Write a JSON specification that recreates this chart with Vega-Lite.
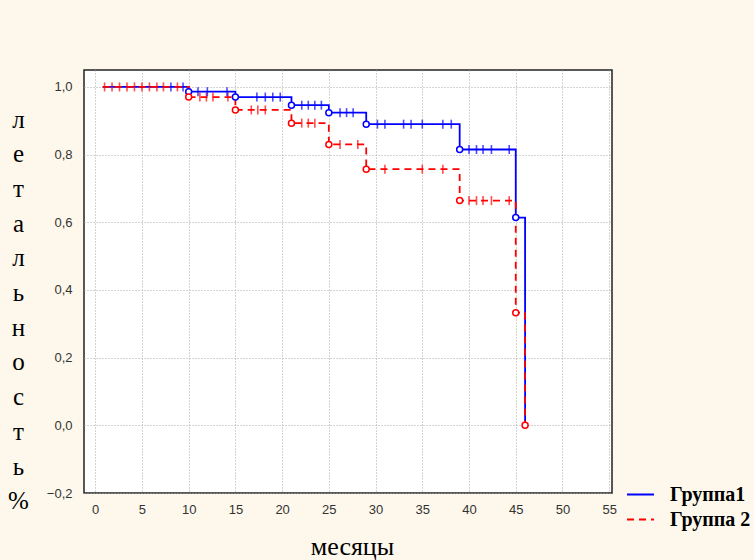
{
  "$schema": "https://vega.github.io/schema/vega-lite/v6.json",
  "width": 528,
  "height": 423,
  "autosize": "none",
  "padding": {"left": 84, "top": 70, "right": 142, "bottom": 67},
  "background": "#fdf8eb",
  "config": {
    "view": {"fill": "white", "stroke": "#222222", "strokeWidth": 1.5},
    "font": "Liberation Sans",
    "legend": {
      "padding": 0,
      "symbolType": "stroke",
      "symbolSize": 729,
      "symbolStrokeWidth": 2,
      "labelFont": "Liberation Serif",
      "labelFontSize": 20,
      "labelFontWeight": "bold",
      "labelColor": "black",
      "labelOffset": 15,
      "rowPadding": -1,
      "labelLimit": 200
    }
  },
  "datasets": {
    "steps": [
      {"group": "Группа1", "t": 0.8, "s": 1.0},
      {"group": "Группа1", "t": 10, "s": 0.986},
      {"group": "Группа1", "t": 15, "s": 0.97},
      {"group": "Группа1", "t": 21, "s": 0.946},
      {"group": "Группа1", "t": 25, "s": 0.924},
      {"group": "Группа1", "t": 29, "s": 0.89},
      {"group": "Группа1", "t": 39, "s": 0.815},
      {"group": "Группа1", "t": 45, "s": 0.614},
      {"group": "Группа1", "t": 46, "s": 0.0},
      {"group": "Группа 2", "t": 0.8, "s": 1.0},
      {"group": "Группа 2", "t": 10, "s": 0.97},
      {"group": "Группа 2", "t": 15, "s": 0.932},
      {"group": "Группа 2", "t": 21, "s": 0.893},
      {"group": "Группа 2", "t": 25, "s": 0.83},
      {"group": "Группа 2", "t": 29, "s": 0.757},
      {"group": "Группа 2", "t": 39, "s": 0.664},
      {"group": "Группа 2", "t": 45, "s": 0.333},
      {"group": "Группа 2", "t": 46, "s": 0.0}
    ],
    "events": [
      {"group": "Группа1", "t": 10, "s": 0.986},
      {"group": "Группа1", "t": 15, "s": 0.97},
      {"group": "Группа1", "t": 21, "s": 0.946},
      {"group": "Группа1", "t": 25, "s": 0.924},
      {"group": "Группа1", "t": 29, "s": 0.89},
      {"group": "Группа1", "t": 39, "s": 0.815},
      {"group": "Группа1", "t": 45, "s": 0.614},
      {"group": "Группа 2", "t": 10, "s": 0.97},
      {"group": "Группа 2", "t": 15, "s": 0.932},
      {"group": "Группа 2", "t": 21, "s": 0.893},
      {"group": "Группа 2", "t": 25, "s": 0.83},
      {"group": "Группа 2", "t": 29, "s": 0.757},
      {"group": "Группа 2", "t": 39, "s": 0.664},
      {"group": "Группа 2", "t": 45, "s": 0.333},
      {"group": "Группа 2", "t": 46, "s": 0.0}
    ],
    "censored": [
      {"group": "Группа 2", "t": 1.0, "s": 1.0},
      {"group": "Группа 2", "t": 1.8, "s": 1.0},
      {"group": "Группа 2", "t": 2.6, "s": 1.0},
      {"group": "Группа 2", "t": 3.4, "s": 1.0},
      {"group": "Группа 2", "t": 4.2, "s": 1.0},
      {"group": "Группа 2", "t": 5.0, "s": 1.0},
      {"group": "Группа 2", "t": 5.8, "s": 1.0},
      {"group": "Группа 2", "t": 6.6, "s": 1.0},
      {"group": "Группа 2", "t": 7.3, "s": 1.0},
      {"group": "Группа 2", "t": 8.8, "s": 1.0},
      {"group": "Группа 2", "t": 11.2, "s": 0.97},
      {"group": "Группа 2", "t": 11.9, "s": 0.97},
      {"group": "Группа 2", "t": 12.6, "s": 0.97},
      {"group": "Группа 2", "t": 14.2, "s": 0.97},
      {"group": "Группа 2", "t": 16.7, "s": 0.932},
      {"group": "Группа 2", "t": 17.4, "s": 0.932},
      {"group": "Группа 2", "t": 18.2, "s": 0.932},
      {"group": "Группа 2", "t": 22.1, "s": 0.893},
      {"group": "Группа 2", "t": 22.8, "s": 0.893},
      {"group": "Группа 2", "t": 23.5, "s": 0.893},
      {"group": "Группа 2", "t": 26.2, "s": 0.83},
      {"group": "Группа 2", "t": 28.1, "s": 0.83},
      {"group": "Группа 2", "t": 31.0, "s": 0.757},
      {"group": "Группа 2", "t": 35.0, "s": 0.757},
      {"group": "Группа 2", "t": 37.2, "s": 0.757},
      {"group": "Группа 2", "t": 40.0, "s": 0.664},
      {"group": "Группа 2", "t": 40.8, "s": 0.664},
      {"group": "Группа 2", "t": 41.5, "s": 0.664},
      {"group": "Группа 2", "t": 42.4, "s": 0.664},
      {"group": "Группа 2", "t": 44.3, "s": 0.664},
      {"group": "Группа1", "t": 8.1, "s": 1.0},
      {"group": "Группа1", "t": 9.4, "s": 1.0},
      {"group": "Группа1", "t": 11.0, "s": 0.986},
      {"group": "Группа1", "t": 12.0, "s": 0.986},
      {"group": "Группа1", "t": 14.1, "s": 0.986},
      {"group": "Группа1", "t": 17.3, "s": 0.97},
      {"group": "Группа1", "t": 18.2, "s": 0.97},
      {"group": "Группа1", "t": 19.0, "s": 0.97},
      {"group": "Группа1", "t": 19.8, "s": 0.97},
      {"group": "Группа1", "t": 22.1, "s": 0.946},
      {"group": "Группа1", "t": 22.8, "s": 0.946},
      {"group": "Группа1", "t": 23.5, "s": 0.946},
      {"group": "Группа1", "t": 24.2, "s": 0.946},
      {"group": "Группа1", "t": 26.2, "s": 0.924},
      {"group": "Группа1", "t": 26.9, "s": 0.924},
      {"group": "Группа1", "t": 27.6, "s": 0.924},
      {"group": "Группа1", "t": 30.2, "s": 0.89},
      {"group": "Группа1", "t": 31.0, "s": 0.89},
      {"group": "Группа1", "t": 33.0, "s": 0.89},
      {"group": "Группа1", "t": 33.8, "s": 0.89},
      {"group": "Группа1", "t": 35.0, "s": 0.89},
      {"group": "Группа1", "t": 37.2, "s": 0.89},
      {"group": "Группа1", "t": 38.1, "s": 0.89},
      {"group": "Группа1", "t": 40.0, "s": 0.815},
      {"group": "Группа1", "t": 40.8, "s": 0.815},
      {"group": "Группа1", "t": 41.5, "s": 0.815},
      {"group": "Группа1", "t": 42.4, "s": 0.815},
      {"group": "Группа1", "t": 44.3, "s": 0.815}
    ]
  },
  "encoding": {
    "x": {
      "field": "t",
      "type": "quantitative",
      "scale": {"domain": [-1.2, 55.3], "nice": false, "zero": false},
      "axis": {
        "values": [0, 5, 10, 15, 20, 25, 30, 35, 40, 45, 50, 55],
        "title": "месяцы",
        "titleFont": "Liberation Serif",
        "titleFontSize": 26,
        "titleFontWeight": "normal",
        "titleColor": "black",
        "titleX": 268,
        "titleY": 61,
        "titleBaseline": "alphabetic",
        "labelFont": "Liberation Sans",
        "labelFontSize": 13,
        "labelColor": "#333333",
        "labelPadding": 10,
        "ticks": false,
        "domain": false,
        "grid": true,
        "gridDash": [1, 2],
        "gridColor": "#a8a8a8",
        "gridWidth": 1
      }
    },
    "y": {
      "field": "s",
      "type": "quantitative",
      "scale": {"domain": [-0.2, 1.05], "nice": false, "zero": false},
      "axis": {
        "values": [-0.2, 0, 0.2, 0.4, 0.6, 0.8, 1.0],
        "labelExpr": "replace(format(datum.value, '.1f'), '.', ',')",
        "title": ["л", "е", "т", "а", "л", "ь", "н", "о", "с", "т", "ь", "%"],
        "titleFont": "Liberation Serif",
        "titleFontSize": 25,
        "titleFontWeight": "normal",
        "titleColor": "black",
        "titleAngle": 0,
        "titleAlign": "center",
        "titleBaseline": "alphabetic",
        "titleX": -66,
        "titleY": 57,
        "titleLineHeight": 34.7,
        "labelFont": "Liberation Sans",
        "labelFontSize": 13,
        "labelColor": "#333333",
        "labelPadding": 12,
        "ticks": false,
        "domain": false,
        "grid": true,
        "gridDash": [1, 2],
        "gridColor": "#a8a8a8",
        "gridWidth": 1
      }
    }
  },
  "layer": [
    {
      "data": {"name": "steps"},
      "mark": {"type": "line", "interpolate": "step-after", "strokeWidth": 1.8},
      "encoding": {
        "color": {
          "field": "group",
          "type": "nominal",
          "scale": {"domain": ["Группа1", "Группа 2"], "range": ["#0000ff", "#ff0000"]},
          "legend": {"orient": "none", "legendX": 542, "legendY": 410, "title": null}
        },
        "strokeDash": {
          "field": "group",
          "type": "nominal",
          "scale": {"domain": ["Группа1", "Группа 2"], "range": [[1, 0], [7, 5]]},
          "legend": {"orient": "none", "legendX": 542, "legendY": 410, "title": null}
        }
      }
    },
    {
      "data": {"name": "censored"},
      "mark": {"type": "tick", "orient": "vertical", "size": 9, "thickness": 1.6},
      "encoding": {
        "color": {"field": "group", "type": "nominal", "legend": null}
      }
    },
    {
      "data": {"name": "events"},
      "mark": {"type": "point", "shape": "circle", "filled": false, "fill": "white", "size": 36, "strokeWidth": 1.5, "opacity": 1},
      "encoding": {
        "color": {"field": "group", "type": "nominal", "legend": null}
      }
    }
  ]
}
